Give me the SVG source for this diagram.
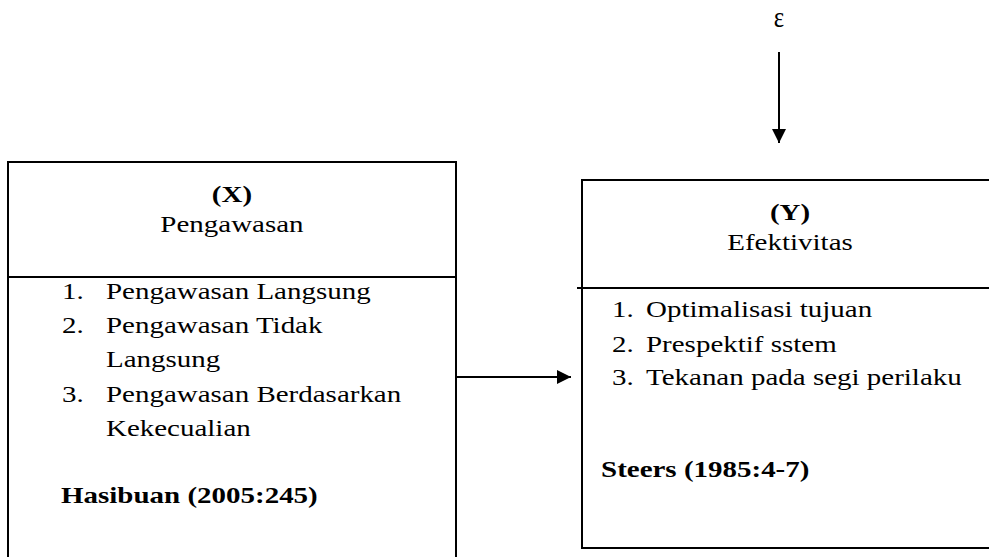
<svg xmlns="http://www.w3.org/2000/svg" width="989" height="557" viewBox="0 0 989 557">
<style>
text{font-family:"Liberation Serif","Times New Roman",serif;font-size:23px;fill:#000}
.b{font-weight:bold}
.c{text-anchor:middle}
.box{fill:#fff;stroke:#000;stroke-width:2}
.ln{stroke:#000;stroke-width:2;fill:none}
</style>
<defs>
<marker id="ah" markerWidth="14" markerHeight="14" refX="14" refY="7" orient="auto" markerUnits="userSpaceOnUse">
<path d="M0,0 L14,7 L0,14 Z" fill="#000"/>
</marker>
</defs>
<rect width="989" height="557" fill="#fff"/>
<g id="epsilon">
<text class="c" transform="translate(779,27) scale(0.85,1)" x="0" y="0" style="font-size:29px">ε</text>
</g>
<g id="nodeX">
<rect class="box" x="8" y="162" width="448" height="410"/>
<line class="ln" x1="8" y1="277" x2="456" y2="277"/>
<g transform="scale(1.26,1)">
<text class="b c" x="184.1" y="202">(X)</text>
<text class="c" x="184.1" y="232">Pengawasan</text>
<text x="49.2" y="299">1.</text>
<text x="84.1" y="299">Pengawasan Langsung</text>
<text x="49.2" y="333">2.</text>
<text x="84.1" y="333">Pengawasan Tidak</text>
<text x="84.1" y="367">Langsung</text>
<text x="49.2" y="402">3.</text>
<text x="84.1" y="402">Pengawasan Berdasarkan</text>
<text x="84.1" y="436">Kekecualian</text>
<text class="b" x="48.4" y="503">Hasibuan (2005:245)</text>
</g>
</g>
<g id="nodeY">
<rect class="box" x="582" y="180" width="420" height="368"/>
<line class="ln" x1="577" y1="288" x2="989" y2="288"/>
<g transform="scale(1.26,1)">
<text class="b c" x="627" y="220">(Y)</text>
<text class="c" x="627" y="250">Efektivitas</text>
<text x="485.7" y="317">1.</text>
<text x="512.7" y="317">Optimalisasi tujuan</text>
<text x="485.7" y="352">2.</text>
<text x="512.7" y="352">Prespektif sstem</text>
<text x="485.7" y="385">3.</text>
<text x="512.7" y="385">Tekanan pada segi perilaku</text>
<text class="b" x="477" y="477">Steers (1985:4-7)</text>
</g>
</g>
<g id="connectors">
<line class="ln" x1="456" y1="377" x2="571" y2="377" marker-end="url(#ah)"/>
<line class="ln" x1="779" y1="52" x2="779" y2="143" marker-end="url(#ah)"/>
</g>
</svg>
